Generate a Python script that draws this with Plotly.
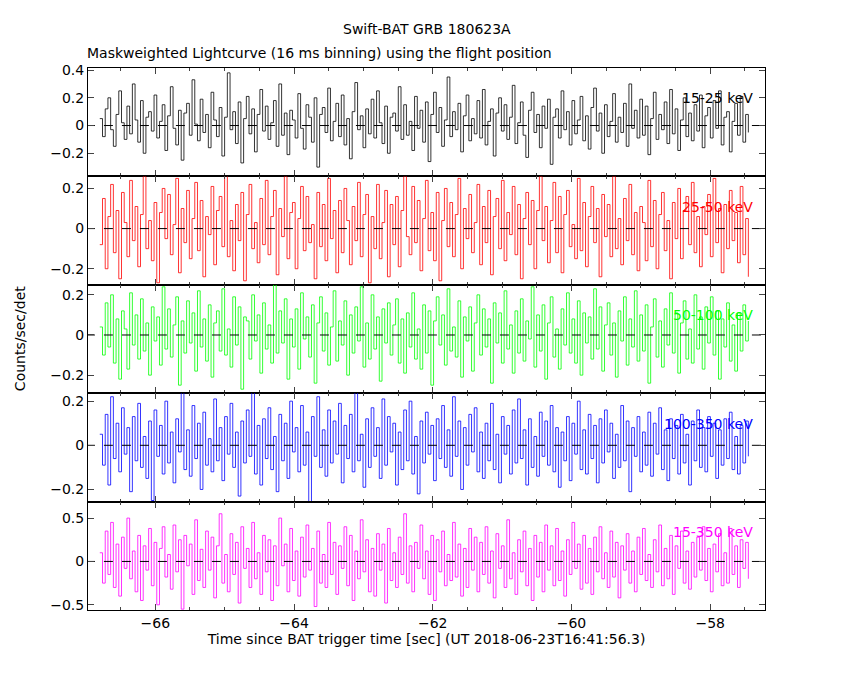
import numpy as np
import plotly.graph_objects as go
from plotly.subplots import make_subplots

t_start, t_end = -66.8, -57.45
bands = ["15-25 keV", "25-50 keV", "50-100 keV", "100-350 keV", "15-350 keV"]
colors = ["black", "red", "#00ff00", "blue", "#ff00ff"]

# rates in units of 0.01 counts/sec/det
rate_15_25 = [
 5,-8,12,20,-3,-15,8,25,2,-10,14,-6,30,4,-12,18,-20,6,10,-4,
 22,-9,3,15,-18,7,28,-2,-14,11,-25,9,16,-7,33,1,-11,19,-5,8,
 -16,24,4,-8,13,-22,6,38,-3,10,-13,17,-27,5,21,-6,12,-19,8,26,
 -4,14,-10,2,18,-15,30,-7,9,-21,11,4,-9,23,-2,-17,15,6,-12,20,
 -30,8,13,-5,27,-11,3,16,-8,22,-14,5,-24,10,31,-3,7,-16,12,-6,
 19,-9,25,2,-13,14,-20,6,9,-4,28,-10,15,-7,3,-18,21,-2,11,-12,
 17,-26,8,24,-5,13,-15,4,35,-8,10,-3,16,-19,7,22,-11,5,-6,18,
 -9,26,-14,3,12,-22,9,20,-4,15,-10,6,29,-13,2,17,-7,-23,11,24,
 -5,8,-16,14,-2,19,-28,6,12,-9,25,-3,10,-14,18,-6,4,21,-11,7,
 -17,13,27,-4,9,-20,15,-8,3,23,-12,6,-5,16,-15,30,-2,11,-9,19,
 -7,14,-21,5,24,-10,8,-3,17,-13,26,-6,12,-18,4,20,-8,9,-11,15,
 -4,22,-16,7,13,-9,18,-2,25,-14,6,10,-19,3,16,-7,21,-12,8,-5]
rate_25_50 = [
 -8,15,-20,6,22,-12,9,-25,18,3,-14,24,-6,11,-19,7,26,-10,4,-16,
 13,-27,8,20,-5,17,-13,2,25,-22,10,-7,19,-15,5,23,-11,14,-24,6,
 -3,21,-18,9,16,-9,27,-14,4,-21,12,-6,18,-26,7,22,-10,3,-17,15,
 -8,24,-13,6,19,-23,10,-4,26,-15,8,13,-20,5,21,-11,16,-7,2,-25,
 18,-9,12,-16,25,-5,9,-22,14,-12,20,4,-18,11,-6,23,-14,7,17,-27,
 6,-10,22,-15,3,19,-24,12,-8,16,-19,9,26,-4,-13,21,-7,14,-21,5,
 24,-11,8,-16,18,-26,4,20,-9,13,-14,7,25,-20,10,-5,17,-12,3,22,
 -18,11,-7,19,-23,6,15,-10,24,-16,8,-3,21,-13,12,-25,5,18,-8,14,
 -20,9,26,-6,11,-17,4,23,-12,16,-22,7,19,-9,2,-15,25,-11,13,-19,
 6,21,-7,10,-24,17,-4,12,-14,26,-10,5,-18,15,-6,22,-13,8,-21,11,
 3,-16,24,-9,14,-20,7,18,-11,4,-25,13,-5,20,-15,9,16,-8,23,-12,
 6,-19,11,-3,17,-14,25,-7,10,-22,12,-10,19,-6,8,-17,21,-13,5,-24]
rate_50_100 = [
 4,-10,16,-6,20,-14,8,-22,12,3,-17,21,-5,10,-12,18,-8,6,-20,14,
 -3,9,-15,24,-7,13,-11,5,19,-25,7,-9,17,-4,11,-18,22,-6,8,-13,
 15,-21,6,12,-8,23,-10,3,-16,19,-5,14,-27,9,7,-12,20,-3,10,-19,
 16,-7,5,-14,25,-9,12,-4,18,-22,8,-6,13,-17,21,-2,9,-11,15,-24,
 6,19,-8,11,-15,4,22,-13,7,-5,17,-20,10,-9,14,-3,24,-16,6,-12,
 20,-7,9,-23,13,-4,16,-10,5,18,-14,8,-19,11,-6,21,-12,3,-17,15,
 -9,12,-25,7,19,-5,10,-15,23,-8,4,-11,17,-21,9,-3,14,-18,6,20,
 -10,13,-6,8,-24,16,-4,11,-14,22,-7,5,-19,12,-9,18,-13,7,-2,24,
 -16,10,-8,15,-22,6,19,-11,3,-17,13,-5,21,-9,8,-14,17,-20,11,-4,
 9,-12,23,-7,14,-18,5,16,-10,6,-21,12,-3,19,-15,8,-6,22,-13,10,
 -8,15,-24,4,18,-11,7,-16,13,-5,21,-9,11,-19,6,17,-12,3,-14,20,
 -7,9,-17,14,-4,19,-10,12,-22,8,-6,16,-13,5,-18,11,-8,15,-3,7]
rate_100_350 = [
 5,-9,14,-18,22,-6,10,-12,17,-4,8,-21,13,-7,19,-10,4,-15,11,-25,
 16,-5,9,-13,20,-8,6,-17,12,-3,24,-11,7,-14,18,-6,10,-20,15,-9,
 3,-12,21,-7,8,-16,13,-4,19,-10,6,-23,11,-8,16,-5,25,-13,9,-18,
 12,-6,17,-11,4,-21,14,-7,10,-15,20,-3,8,-12,18,-9,6,-26,13,-5,
 22,-10,7,-14,16,-8,11,-4,19,-17,9,-6,14,-12,24,-7,5,-19,12,-10,
 17,-5,8,-15,21,-9,13,-3,10,-18,6,-11,16,-7,20,-13,4,-22,11,-8,
 15,-4,9,-16,12,-6,18,-10,7,-14,22,-5,11,-20,8,-9,14,-3,17,-12,
 6,-15,10,-7,19,-11,5,-17,13,-4,9,-13,16,-8,21,-6,7,-18,12,-10,
 4,-14,15,-5,11,-9,18,-12,8,-19,6,-7,13,-16,10,-4,20,-11,7,-13,
 14,-6,9,-17,12,-8,16,-3,10,-15,5,-10,18,-7,11,-21,8,-5,13,-12,
 6,-9,15,-14,10,-4,17,-11,7,-16,12,-6,9,-13,14,-8,5,-18,11,-7,
 16,-10,8,-12,13,-5,10,-15,7,-9,12,-6,15,-11,4,-13,9,-8,11,-5]
rate_15_350 = [
 10,-25,35,-15,45,-30,20,-40,28,-8,50,-20,12,-35,30,-45,18,-10,38,-28,
 22,-50,15,40,-18,8,-32,42,-12,25,-55,30,-5,20,-38,48,-22,14,-30,35,
 -10,28,-42,18,55,-25,8,-35,32,-15,22,-48,40,-8,15,-30,45,-20,10,-38,
 30,-12,25,-45,18,-28,50,-5,20,-35,38,-22,12,-40,28,-18,42,-10,15,-52,
 35,-25,8,-30,45,-15,22,-38,18,-8,40,-28,30,-45,12,-20,48,-12,25,-35,
 15,-40,32,-10,20,-48,38,-22,10,-30,28,-15,55,-25,18,-35,22,-8,42,-20,
 12,-38,30,-45,25,-12,35,-28,8,-22,45,-18,20,-40,15,-30,38,-10,28,-35,
 22,-15,40,-25,12,-42,32,-8,18,-30,48,-20,10,-38,25,-12,35,-28,15,-45,
 30,-18,22,-35,42,-10,18,-28,38,-22,12,-40,25,-15,45,-8,20,-32,30,-25,
 15,-38,28,-12,40,-20,10,-30,35,-18,22,-42,18,-10,32,-25,12,-35,28,-15,
 38,-22,8,-30,25,-12,42,-28,15,-20,30,-38,18,-8,35,-25,12,-32,22,-18,
 28,-10,40,-22,15,-35,20,-12,32,-28,10,-25,38,-15,18,-30,25,-8,22,-20]
rates = [rate_15_25, rate_25_50, rate_50_100, rate_100_350, rate_15_350]

y_ranges = [[-0.367, 0.415], [-0.28, 0.26], [-0.29, 0.25], [-0.255, 0.236], [-0.56, 0.69]]
y_ticks = [[-0.2, 0, 0.2, 0.4], [-0.2, 0, 0.2], [-0.2, 0, 0.2], [-0.2, 0, 0.2], [-0.5, 0, 0.5]]
x_ticks = [-66, -64, -62, -60, -58]

fig = make_subplots(rows=5, cols=1, shared_xaxes=True, vertical_spacing=0)
font = dict(family="DejaVu Sans", size=14, color="black")
for i, r in enumerate(rates):
    n = len(r)
    t = np.linspace(t_start, t_end, n)
    fig.add_trace(go.Scatter(x=t, y=np.array(r) / 100.0, mode="lines", line=dict(color=colors[i], width=0.8, shape="hv"), showlegend=False), row=i+1, col=1)
    fig.add_trace(go.Scatter(x=[-67, -57.2], y=[0, 0], mode="lines", line=dict(color="black", width=1, dash="dash"), showlegend=False), row=i+1, col=1)
    fig.add_annotation(x=0.985, y=y_ranges[i][1] - 0.28 * (y_ranges[i][1] - y_ranges[i][0]), xref="x domain", yref=f"y{'' if i == 0 else i+1}", text=bands[i], showarrow=False, xanchor="right", font=dict(family="DejaVu Sans", size=14, color=colors[i]))
    fig.update_yaxes(range=y_ranges[i], tickvals=y_ticks[i], ticktext=[("%g" % v).replace("-", "−") for v in y_ticks[i]], ticks="inside", ticklen=6, showline=True, linecolor="black", linewidth=1, mirror="allticks", showgrid=False, zeroline=False, tickfont=font, row=i+1, col=1)
    fig.update_xaxes(range=[-66.97, -57.21], tickvals=x_ticks, ticktext=[("%g" % v).replace("-", "−") for v in x_ticks], ticks="inside", ticklen=6, showline=True, linecolor="black", linewidth=1, mirror="allticks", showgrid=False, zeroline=False, tickfont=font, minor=dict(ticks="inside", ticklen=3, dtick=0.5), row=i+1, col=1)

fig.update_xaxes(title=dict(text="Time since BAT trigger time [sec] (UT 2018-06-23T16:41:56.3)", font=font, standoff=2), row=5, col=1)
fig.add_annotation(x=-0.115, y=0.5, xref="paper", yref="paper", text="Counts/sec/det", textangle=-90, showarrow=False, font=font)
fig.add_annotation(x=0.5, y=1.09, xref="paper", yref="paper", text="Swift-BAT GRB 180623A", showarrow=False, font=font)
fig.add_annotation(x=-0.005, y=1.047, xref="paper", yref="paper", xanchor="left", text="Maskweighted Lightcurve (16 ms binning) using the flight position", showarrow=False, font=font)
fig.update_layout(width=850, height=680, margin=dict(l=80, r=93, t=60, b=78, autoexpand=False), plot_bgcolor="white", paper_bgcolor="white")
fig.write_html("out.html")
